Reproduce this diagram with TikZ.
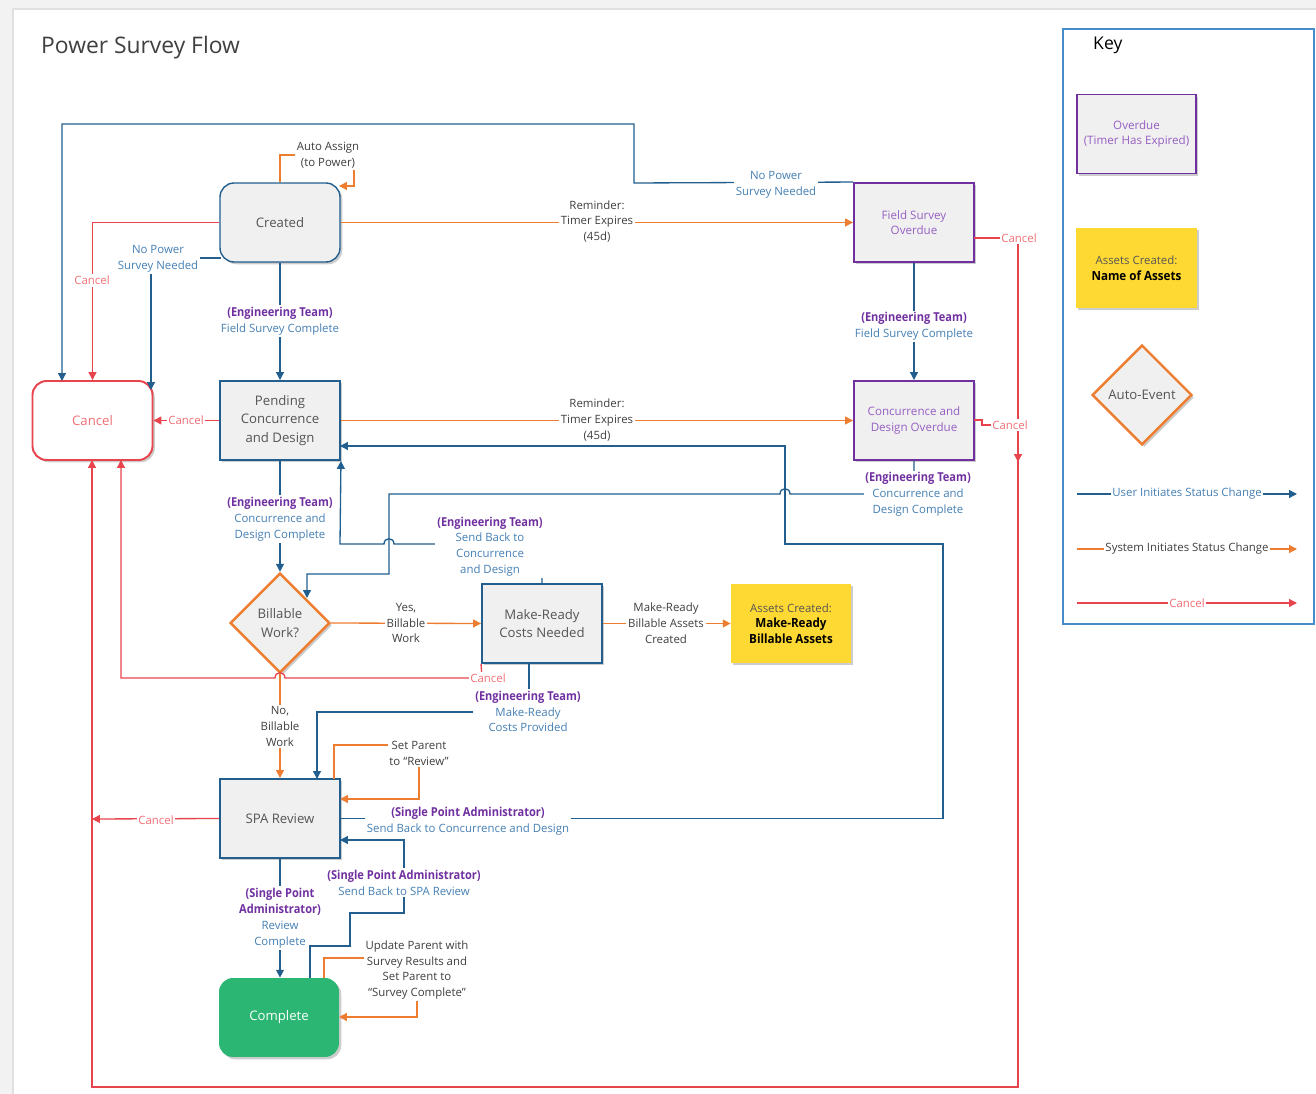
\documentclass[tikz,border=0pt]{standalone}
\usepackage{fontspec}
\usepackage{graphicx}
\setmainfont{Open Sans}
\usetikzlibrary{arrows.meta,shapes.geometric,shadows}
\definecolor{lineblue}{RGB}{34,94,142}
\definecolor{txtblue}{RGB}{70,128,180}
\definecolor{purp}{RGB}{112,48,160}
\definecolor{purptxt}{RGB}{150,95,195}
\definecolor{orng}{RGB}{237,125,49}
\definecolor{redl}{RGB}{232,68,78}
\definecolor{redtxt}{RGB}{240,112,118}
\definecolor{boxfill}{RGB}{240,240,240}
\definecolor{graytxt}{RGB}{85,85,85}
\definecolor{darktxt}{RGB}{64,64,64}
\definecolor{greenbox}{RGB}{43,182,115}
\definecolor{yellowbox}{RGB}{255,217,51}
\definecolor{pagegray}{RGB}{242,242,242}
\definecolor{keyblue}{RGB}{70,140,200}
\newcommand{\roleT}[1]{\textcolor{purp}{\scalebox{0.9}[1]{\fontsize{7}{9}\selectfont\bfseries #1}}}
\newcommand{\boldT}[1]{\scalebox{0.92}[1]{\fontsize{7.2}{9}\selectfont\bfseries #1}}
\begin{document}
\begin{tikzpicture}[x=0.02cm,y=-0.02cm,
 every node/.style={font=\fontsize{6.5}{9}\selectfont},
 shd/.style={drop shadow={shadow xshift=1.3pt,shadow yshift=-1.3pt,opacity=0.2,fill=black}},
 base/.style={shd,align=center,inner sep=0pt,minimum width=2.4cm,minimum height=1.58cm},
 stbox/.style={base,draw=lineblue,line width=1.1pt,fill=boxfill,text=graytxt,font=\fontsize{7.5}{10.5}\selectfont},
 ovbox/.style={base,draw=purp,line width=1.1pt,fill=boxfill,text=purptxt,font=\fontsize{6.6}{8.6}\selectfont},
 ybox/.style={base,fill=yellowbox,text=black,font=\fontsize{6.5}{8.8}\selectfont},
 cbox/.style={base,rounded corners=8pt,draw=redl,line width=1.1pt,fill=white,text=redtxt,font=\fontsize{7.5}{10.5}\selectfont},
 gbox/.style={base,rounded corners=8pt,fill=greenbox,text=white,font=\fontsize{7.5}{10.5}\selectfont},
 diam/.style={shd,diamond,aspect=1,draw=orng,line width=1.4pt,fill=boxfill,text=graytxt,align=center,inner sep=0pt,minimum width=2cm,minimum height=2cm,font=\fontsize{7.5}{10.5}\selectfont},
 ub/.style={draw=lineblue,line width=0.75pt,-{Triangle[length=4.5pt,width=4.5pt]}},
 sy/.style={draw=orng,line width=0.75pt,-{Triangle[length=4.5pt,width=4.5pt]}},
 cx/.style={draw=redl,line width=0.75pt,-{Triangle[length=4.5pt,width=4.5pt]}},
 lbl/.style={fill=white,inner sep=1pt,align=center,text=txtblue},
 glbl/.style={lbl,text=darktxt},
 rlbl/.style={lbl,text=redtxt}
]
\useasboundingbox (0,0) rectangle (1316,1094);
\fill[pagegray] (0,0) rectangle (1316,1094);
\fill[white] (13,9) rectangle (1316,1094);
\draw[black!12,line width=0.6pt] (13,1094) -- (13,9) -- (1316,9);

% title and key frame
\node[anchor=west,text=darktxt,font=\fontsize{13}{15}\selectfont] (title) at (35,48) {Power Survey Flow};
\draw[keyblue,line width=0.8pt] (1063,29) rectangle (1314,624);
\node[anchor=west,text=black,font=\fontsize{10}{12}\selectfont] (keyt) at (1087,45) {Key};

% nodes
\node[stbox,rounded corners=8pt,line width=0.8pt] (created) at (280,222.5) {Created};
\node[ovbox] (fso) at (914,222.5) {Field Survey\\Overdue};
\node[cbox] (cancel) at (92.5,420.5) {Cancel};
\node[stbox] (pending) at (280,420.5) {Pending\\Concurrence\\and Design};
\node[ovbox] (cdo) at (914,420.5) {Concurrence and\\Design Overdue};
\node[diam] (bill) at (280,623) {Billable\\Work?};
\node[stbox] (mr) at (542,623.5) {Make-Ready\\Costs Needed};
\node[ybox] (assets) at (791,623.5) {\textcolor{graytxt}{Assets Created:}\\\boldT{Make-Ready}\\\boldT{Billable Assets}};
\node[stbox] (spa) at (280,818.5) {SPA Review};
\node[gbox] (complete) at (279,1017.5) {Complete};

% key nodes
\node[ovbox,minimum width=2.38cm] (kov) at (1136.5,134) {Overdue\\(Timer Has Expired)};
\node[ybox,minimum width=2.42cm,minimum height=1.6cm] (kas) at (1136.5,268) {\textcolor{graytxt}{Assets Created:}\\\boldT{Name of Assets}};
\node[diam] (kae) at (1142,395) {Auto-Event};
\coordinate (ku1) at (1077,494); \coordinate (ku2) at (1297,494);
\coordinate (ks1) at (1077,549); \coordinate (ks2) at (1297,549);
\coordinate (kc1) at (1077,603); \coordinate (kc2) at (1297,603);
\draw[ub] (ku1) -- node[lbl] (kul) {User Initiates Status Change} (ku2);
\draw[sy] (ks1) -- node[glbl] (ksl) {System Initiates Status Change} (ks2);
\draw[cx] (kc1) -- node[rlbl] (kcl) {Cancel} (kc2);

% Created -> Field Survey Overdue
\draw[sy] (created.east) -- (fso.west);
\node[glbl] (l1) at (597,221.5) {Reminder:\\Timer Expires\\(45d)};
% Auto assign loop
\draw[sy] (created.north) -- (280,155) -- (354,155) -- (354,186) -- (339,186);
\node[glbl] (l2) at (328,155.5) {Auto Assign\\(to Power)};
% Created -> Cancel (red)
\draw[cx] (created.west) -| (cancel.north);
\node[rlbl] (l3) at (92,280.5) {Cancel};
% Created -> Cancel (no power survey)
\draw[ub] (221,258) -- (151,258) -- (151,390);
\node[lbl] (l4) at (158,258.5) {No Power\\Survey Needed};
% FSO -> Cancel (no power survey)
\draw[ub] (fso.north west) -- (634,183) -- (634,124) -- (62,124) -- (62,381);
\node[lbl] (l5) at (776,184.5) {No Power\\Survey Needed};
% FSO -> Cancel (red, long loop)
\draw[cx] (974,238) -- (1018,238) -- (1018,1087) -- (92,1087) -- (92,460);
\node[rlbl] (l6) at (1019,238) {Cancel};
% CDO -> Cancel (joins)
\draw[cx] (974,420) -- (982,420) -- (982,425) -- (1018,425) -- (1018,462);
\node[rlbl] (l7) at (1010,425) {Cancel};
% Created -> Pending
\draw[ub] (created.south) -- (pending.north);
\node[lbl] (l8) at (280,321) {\roleT{(Engineering Team)}\\Field Survey Complete};
% FSO -> CDO
\draw[ub] (fso.south) -- (cdo.north);
\node[lbl] (l9) at (914,326.5) {\roleT{(Engineering Team)}\\Field Survey Complete};
% Pending -> Cancel
\draw[cx] (pending.west) -- (cancel.east);
\node[rlbl] (l10) at (186,420) {Cancel};
% Pending -> CDO
\draw[sy] (pending.east) -- (cdo.west);
\node[glbl] (l11) at (597,420) {Reminder:\\Timer Expires\\(45d)};
% Pending -> Billable
\draw[ub] (pending.south) -- (bill.north);
\node[lbl] (l12) at (280,519) {\roleT{(Engineering Team)}\\Concurrence and\\Design Complete};
% CDO -> Billable
\draw[ub] (cdo.south) -- (914,494) -- (790,494) .. controls (790,487) and (780,487) .. (780,494) -- (389,494) -- (389,574) -- (307,574) -- (307,598);
\node[lbl] (l13) at (918,494.5) {\roleT{(Engineering Team)}\\Concurrence and\\Design Complete};
% MR -> Pending (send back)
\draw[ub] (mr.north) -- (542,544) -- (394,544) .. controls (394,537) and (384,537) .. (384,544) -- (340,544) -- (pending.south east);
\node[lbl] (l14) at (490,546.5) {\roleT{(Engineering Team)}\\Send Back to\\Concurrence\\and Design};
% Billable -> MR
\draw[sy] (bill.east) -- (mr.west);
\node[glbl] (l15) at (406,623) {Yes,\\Billable\\Work};
% Billable -> SPA
\draw[sy] (bill.south) -- (spa.north);
\node[glbl] (l16) at (280,726.5) {No,\\Billable\\Work};
% MR -> Assets
\draw[sy] (mr.east) -- (assets.west);
\node[glbl] (l17) at (666,623) {Make-Ready\\Billable Assets\\Created};
% MR -> Cancel
\draw[cx] (mr.south west) -- (482,678) -- (285,678) .. controls (285,671) and (275,671) .. (275,678) -- (121,678) -- (121,460);
\node[rlbl] (l18) at (488,678) {Cancel};
% MR -> SPA
\draw[ub] (529,663) -- (529,712) -- (317,712) -- (317,779);
\node[lbl] (l19) at (528,711.5) {\roleT{(Engineering Team)}\\Make-Ready\\Costs Provided};
% SPA loop
\draw[sy] (334,779) -- (334,745) -- (419,745) -- (419,799) -- (340,799);
\node[glbl] (l20) at (419,753.5) {Set Parent\\to “Review”};
% SPA -> Pending
\draw[ub] (spa.east) -- (943,818.5) -- (943,544) -- (785,544) -- (785,446) -- (340,446);
\node[lbl] (l21) at (468,821.5) {\roleT{(Single Point Administrator)}\\Send Back to Concurrence and Design};
% SPA -> Cancel
\draw[cx] (spa.west) -- (92,819);
\node[rlbl] (l22) at (156,820.5) {Cancel};
% SPA -> Complete
\draw[ub] (spa.south) -- (spa.south |- complete.north);
\node[lbl] (l23) at (280,918) {\roleT{(Single Point}\\\roleT{Administrator)}\\Review\\Complete};
% Complete -> SPA
\draw[ub] (310,978) -- (310,946) -- (350,946) -- (350,913) -- (404,913) -- (404,840) -- (340,840);
\node[lbl] (l24) at (404,882.5) {\roleT{(Single Point Administrator)}\\Send Back to SPA Review};
% Complete loop
\draw[sy] (324,978) -- (324,958) -- (417,958) -- (417,1017) -- (339,1017);
\node[glbl] (l25) at (417,970) {Update Parent with\\Survey Results and\\Set Parent to\\“Survey Complete”};
\end{tikzpicture}
\end{document}
